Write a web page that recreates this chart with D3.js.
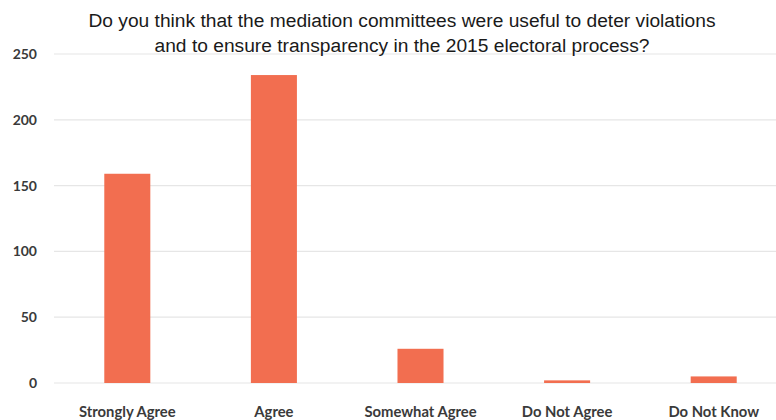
<!DOCTYPE html>
<html><head><meta charset="utf-8">
<script src="https://cdn.jsdelivr.net/npm/d3@7"></script>
<style>body{margin:0;background:#fff;}svg{display:block;}</style>
</head><body>
<svg id="chart" width="776" height="420"></svg>
<script>
const categories = ["Strongly Agree", "Agree", "Somewhat Agree", "Do Not Agree", "Do Not Know"];
const values = [159, 234, 26, 2, 5];
const yTicks = [0, 50, 100, 150, 200, 250];
const titleLines = ["Do you think that the mediation committees were useful to deter violations",
                    "and to ensure transparency in the 2015 electoral process?"];

const svg = d3.select("#chart");
const x = d3.scaleBand().domain(categories).range([54, 787]).paddingInner(0.686).paddingOuter(0.343);
const y = d3.scaleLinear().domain([0, 250]).range([383, 54]);

// grid
svg.append("g").selectAll("line").data(yTicks).join("line")
  .attr("x1", 54).attr("x2", 776)
  .attr("y1", d => y(d)).attr("y2", d => y(d))
  .attr("stroke", "#e6e6e6").attr("stroke-width", 1.2);

// y axis labels
const yAxis = d3.axisLeft(y).tickValues(yTicks).tickSize(0).tickPadding(0);
const ya = svg.append("g").attr("transform", "translate(37,0)").call(yAxis);
ya.select(".domain").remove();
ya.selectAll("text").attr("font-family", "Lato, 'Open Sans', sans-serif").attr("font-weight", "bold")
  .attr("font-size", "14px").attr("fill", "#3a3a3a");

// bars
svg.append("g").selectAll("rect").data(values).join("rect")
  .attr("x", (d, i) => x(categories[i]))
  .attr("width", x.bandwidth())
  .attr("y", d => y(d))
  .attr("height", d => y(0) - y(d))
  .attr("fill", "#F26E50");

// x axis labels
const xAxis = d3.axisBottom(x).tickSize(0).tickPadding(0);
const xa = svg.append("g").attr("transform", "translate(0,406)").call(xAxis);
xa.select(".domain").remove();
xa.selectAll("text").attr("font-family", "Lato, 'Open Sans', sans-serif").attr("font-weight", "bold")
  .attr("font-size", "14.8px").attr("fill", "#3a3a3a");

// title
svg.append("g").selectAll("text").data(titleLines).join("text")
  .attr("x", 402).attr("y", (d, i) => 27 + i * 25)
  .attr("text-anchor", "middle")
  .attr("font-family", "'Liberation Sans', Arial, sans-serif")
  .attr("font-size", "19.2px").attr("fill", "#1a1a1a")
  .text(d => d);
</script>
</body></html>
